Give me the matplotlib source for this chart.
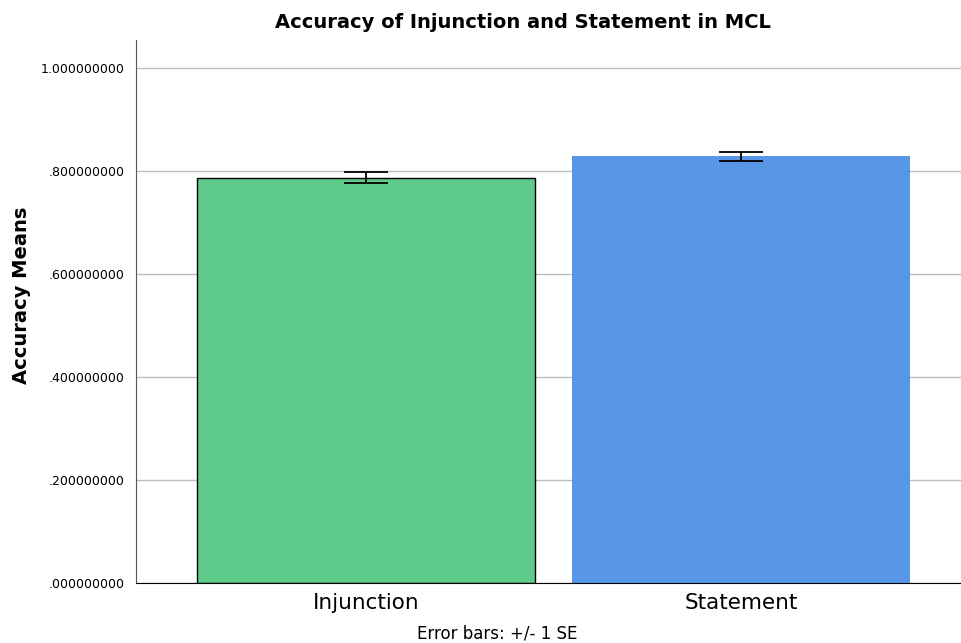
import matplotlib
matplotlib.use("Agg")
import matplotlib.pyplot as plt
from matplotlib.ticker import FuncFormatter

plt.rcParams['font.family'] = ['DejaVu Sans']

conditions = ["Injunction", "Statement"]
means = [0.787, 0.828]
se = [0.0115, 0.009]
colors = ["#5ECB8B", "#5797E6"]
edges = ["black", "none"]


def spss_fmt(v, pos):
    s = "%.9f" % v
    return s[1:] if s.startswith("0") else s


fig = plt.figure(figsize=(9.62, 6.43), dpi=100)
ax = fig.add_axes([136 / 962, 1 - 583 / 643, 1 - 136 / 962, (583 - 40) / 643])

x = list(range(len(conditions)))
for i in x:
    ax.bar(i, means[i], width=0.9, color=colors[i], edgecolor=edges[i],
           linewidth=1.0, zorder=2)
ax.errorbar(x, means, yerr=se, fmt="none", ecolor="black", elinewidth=1.3,
            capsize=16, capthick=1.3, zorder=3)

ax.set_xlim(-0.613, 1.589)
ax.set_ylim(0, 1.054)
ax.set_yticks([0, 0.2, 0.4, 0.6, 0.8, 1.0])
ax.yaxis.set_major_formatter(FuncFormatter(spss_fmt))
ax.set_xticks(x)
ax.set_xticklabels(conditions, fontsize=15.5)
ax.tick_params(axis="y", length=0, labelsize=9, pad=8)
ax.tick_params(axis="x", length=0, pad=7)
ax.grid(axis="y", color="#BDBDBD", linewidth=1.0, zorder=0)
ax.set_axisbelow(True)

for side in ("top", "right"):
    ax.spines[side].set_visible(False)
ax.spines["left"].set_color("#555555")
ax.spines["bottom"].set_color("black")

fig.text(22 / 962, 1 - 295 / 643, "Accuracy Means", rotation=90,
         ha="center", va="center", fontsize=14, fontweight="bold")
fig.text(523 / 962, 1 - 22 / 643, "Accuracy of Injunction and Statement in MCL",
         ha="center", va="center", fontsize=14, fontweight="bold")
fig.text(497 / 962, 1 - 633 / 643, "Error bars: +/- 1 SE",
         ha="center", va="center", fontsize=12)

fig.savefig("out.png", dpi=100)
